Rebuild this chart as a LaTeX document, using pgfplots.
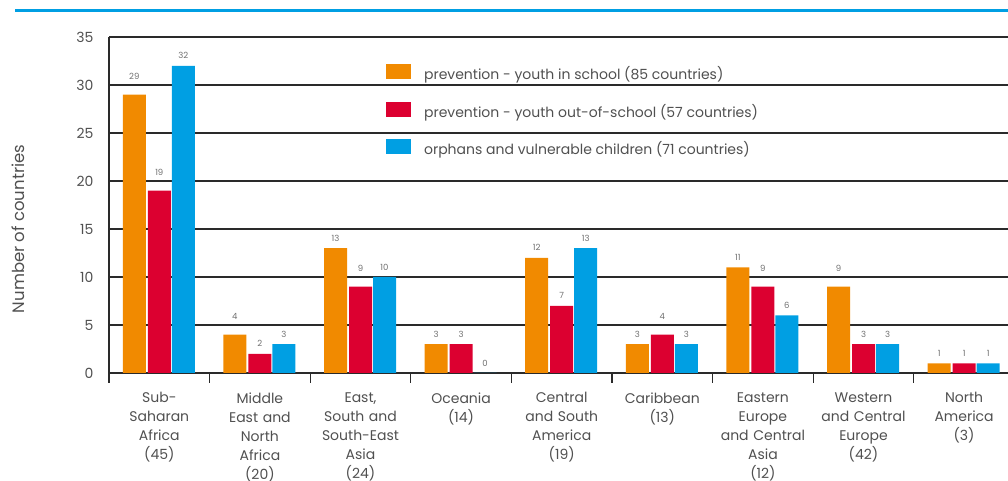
\documentclass[border=0pt]{standalone}
\usepackage{pgfplots}
\pgfplotsset{compat=1.18}
\usepackage{pgfplotstable}
\usepackage{fontspec}
\setmainfont{Poppins}
\definecolor{corange}{HTML}{F18A00}
\definecolor{cred}{HTML}{DC0030}
\definecolor{cblue}{HTML}{009FE3}
\definecolor{txtgray}{HTML}{505050}
\definecolor{lblgray}{HTML}{707070}
\definecolor{gridc}{HTML}{2A2A2A}

\pgfplotstableread{
x val off
0 29 18
1 4 18
2 13 10
3 3 10
4 12 10
5 3 10
6 11 10
7 9 18
8 1 10
}\orangedata
\pgfplotstableread{
x val off
0 19 18
1 2 10
2 9 18
3 3 10
4 7 10
5 4 18
6 9 18
7 3 10
8 1 10
}\reddata
\pgfplotstableread{
x val off
0 32 10
1 3 10
2 10 10
3 0 10
4 13 10
5 3 10
6 6 10
7 3 10
8 1 10
}\bluedata

\begin{document}
\begin{tikzpicture}
\begin{axis}[
  at={(109pt,108pt)}, anchor=south west,
  x=100.6pt, y=9.6pt,
  xmin=-0.5, xmax=8.436, ymin=0, ymax=35,
  axis x line=bottom, axis y line=left,
  axis line style={gridc, line width=1.1pt, -},
  ytick={0,5,...,35},
  ymajorgrids, grid style={gridc, line width=1.1pt},
  xtick={0,...,8},
  xticklabels={
    {Sub-\\Saharan\\Africa\\(45)},
    {Middle\\East and\\North\\Africa\\(20)},
    {East,\\South and\\South-East\\Asia\\(24)},
    {Oceania\\(14)},
    {Central\\and South\\America\\(19)},
    {Caribbean\\(13)},
    {Eastern\\Europe\\and Central\\Asia\\(12)},
    {Western\\and Central\\Europe\\(42)},
    {North\\America\\(3)}},
  minor xtick={-0.5,0.5,...,7.5},
  tick align=outside,
  major tick length=0pt,
  minor tick length=10pt,
  minor tick style={gridc, line width=1.1pt},
  /pgf/number format/assume math mode=true,
  yticklabel style={font=\fontsize{14}{17}\selectfont, text=txtgray, xshift=-12pt},
  xticklabel style={font=\fontsize{14}{19}\selectfont, text=txtgray, align=center, text width=100pt, anchor=north, yshift=-16pt},
  ylabel={Number of countries},
  ylabel style={font=\fontsize{16.5}{19}\selectfont, text=txtgray, at={(axis description cs:-0.1012,0.4286)}, anchor=center},
  legend style={at={(axis description cs:0.308,0.9196)}, anchor=north west, draw=none, fill=none,
    inner sep=0pt, column sep=13pt, row sep=19pt,
    font=\fontsize{14}{16}\selectfont, text=txtgray,
    nodes={inner sep=0pt, text height=10pt, text depth=3pt}},
  legend cell align=left,
  nodes near coords,
  point meta=explicit,
  every node near coord/.append style={font=\fontsize{8.5}{9}\selectfont, text=lblgray, anchor=center, yshift=\myoff pt},
  visualization depends on={\thisrow{off} \as \myoff},
]
\addplot[ybar, bar width=23pt, bar shift=-25pt, fill=corange, draw=none,
  every node near coord/.append style={xshift=-25pt},
  legend image code/.code={\fill[corange] (0pt,-3pt) rectangle (25pt,12pt);}]
  table[x=x, y=val, meta=val] {\orangedata};
\addlegendentry{prevention - youth in school (85 countries)}
\addplot[ybar, bar width=23pt, bar shift=0pt, fill=cred, draw=none,
  legend image code/.code={\fill[cred] (0pt,-3pt) rectangle (25pt,12pt);}]
  table[x=x, y=val, meta=val] {\reddata};
\addlegendentry{prevention - youth out-of-school (57 countries)}
\addplot[ybar, bar width=23pt, bar shift=24pt, fill=cblue, draw=none,
  every node near coord/.append style={xshift=24pt},
  legend image code/.code={\fill[cblue] (0pt,-3pt) rectangle (25pt,12pt);}]
  table[x=x, y=val, meta=val] {\bluedata};
\addlegendentry{orphans and vulnerable children (71 countries)}
\end{axis}
\draw[cblue, line width=3pt] (15pt,470pt) -- (1008pt,470pt);
\pgfresetboundingbox
\path[use as bounding box] (0,0) rectangle (1008pt,481pt);
\end{tikzpicture}
\end{document}
